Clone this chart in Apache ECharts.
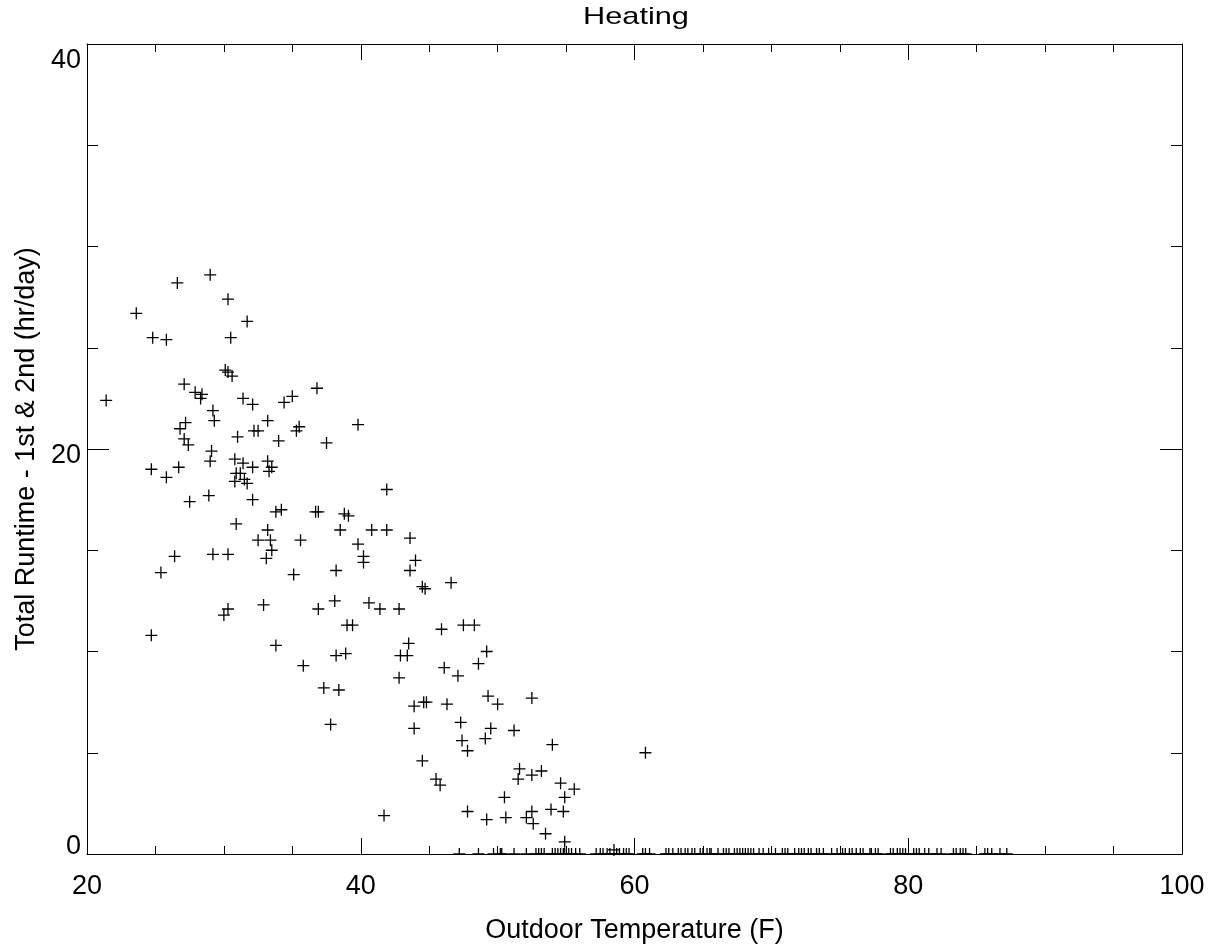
<!DOCTYPE html>
<html>
<head>
<meta charset="utf-8">
<script src="https://cdn.jsdelivr.net/npm/echarts@6/dist/echarts.min.js"></script>
<style>
  html, body { margin: 0; padding: 0; background: #fff; }
  #chart { width: 1220px; height: 949px; }
</style>
</head>
<body>
<div id="chart"></div>
<script>
// Outdoor temperature (F) for days with heating runtime > 0
const tempF = [
  29.0,26.6,30.3,23.6,31.7,30.5,24.8,25.8,30.1,30.3,30.6,27.1,36.8,21.4,27.9,28.4,28.3,31.4,32.1,35.0,
  34.4,29.2,29.3,33.2,39.8,27.2,26.8,32.2,32.5,35.5,35.3,31.0,27.1,27.4,34.0,37.5,29.1,29.0,30.8,31.4,
  32.1,33.2,33.5,33.3,24.7,26.7,25.8,30.9,31.2,30.8,31.5,31.7,
  27.5,28.9,32.1,33.8,34.2,36.7,36.9,38.8,39.1,30.9,33.2,38.5,32.5,33.4,35.6,39.8,33.5,33.1,26.4,29.2,
  30.3,25.4,35.1,38.2,32.9,30.3,30.0,36.9,38.1,39.0,39.4,24.7,33.8,35.8,38.2,38.9,37.3,38.4,37.8,
  41.9,40.8,41.9,43.6,40.2,40.2,44.0,43.6,44.5,44.7,46.6,40.6,41.4,42.8,45.9,47.5,48.3,43.5,42.9,43.4,
  49.2,48.6,46.1,47.1,42.8,49.3,50.0,52.5,43.9,44.6,44.8,46.3,
  43.9,47.3,49.5,51.2,47.4,49.1,47.8,54.0,60.8,44.5,45.5,45.8,51.6,51.5,52.5,53.2,54.6,55.6,54.9,50.5,
  47.8,49.2,50.6,52.1,52.5,52.6,53.9,54.8,53.5,54.9,58.5,41.7
];
// Total runtime 1st & 2nd stage (hr/day), matching tempF
const runtimeHr = [
  28.6,28.2,27.4,26.7,26.3,25.5,25.5,25.4,23.9,23.8,23.6,23.2,23.0,22.4,22.8,22.7,22.5,22.5,22.2,22.6,
  22.3,21.9,21.4,21.4,21.2,21.3,21.0,20.9,20.9,21.1,20.9,20.6,20.5,20.2,20.4,20.3,19.9,19.4,19.5,19.3,
  19.1,19.4,19.1,18.9,19.0,19.1,18.6,18.8,18.8,18.4,18.5,18.3,
  17.4,17.7,17.5,16.9,17.0,16.9,16.9,16.8,16.7,16.3,16.0,16.0,15.5,15.5,15.5,15.3,15.0,14.6,14.7,14.8,
  14.8,13.9,13.8,14.0,12.3,12.1,11.8,12.1,12.5,11.3,11.3,10.8,10.3,9.3,9.8,9.9,8.2,8.1,6.4,
  18.0,16.0,16.0,15.6,14.7,14.4,14.5,14.0,13.2,13.1,13.4,12.4,12.1,12.1,11.1,11.3,11.3,10.4,9.8,9.8,
  10.0,9.4,9.2,8.8,8.7,7.8,7.4,7.7,7.3,7.5,7.5,7.4,
  6.2,6.5,6.2,6.1,5.6,5.7,5.1,5.4,5.0,4.6,3.7,3.4,4.2,3.7,3.9,4.1,3.5,3.2,2.8,2.8,
  2.1,1.7,1.8,1.8,2.1,1.5,2.2,2.1,1.0,0.6,0.2,1.9
];
// Outdoor temperature (F) for days with zero heating runtime
const zeroRuntimeTempF = [
  47.2,48.6,49.7,50.2,50.3,51.2,52.1,52.8,53.0,53.2,53.4,54.0,54.2,54.4,54.6,54.8,54.9,55.2,55.4,55.7,
  56.0,57.2,57.5,57.7,58.0,58.2,58.7,58.9,59.2,59.4,59.6,60.6,60.8,61.1,62.3,62.5,62.8,63.2,63.4,63.7,
  63.9,64.2,64.4,64.8,65.0,65.3,65.5,65.6,66.1,66.5,66.7,66.9,67.3,67.5,67.7,67.9,68.1,68.3,68.5,68.7,
  69.1,69.4,69.8,70.3,70.8,71.0,71.2,71.7,72.0,72.2,72.4,72.7,72.9,73.3,73.5,73.8,74.4,74.8,75.2,75.4,
  75.7,75.9,76.2,76.5,76.7,77.2,77.3,77.6,77.8,78.7,78.9,79.2,79.4,79.6,79.8,80.4,80.6,80.8,81.2,81.5,
  82.1,82.4,83.3,83.5,83.8,84.0,84.2,85.6,85.8,86.1,86.7,87.2
];
const xTicks = [20, 40, 60, 80, 100];
const yTicks = [0, 20, 40];

const FONT = "'Liberation Sans', Arial, sans-serif";
const crossPath = 'path://M0,5.35H12V6.65H0Z M5.35,0H6.65V12H5.35Z';
const halfCrossPath = 'path://M0,5.35H12V6.65H0Z M5.35,0H6.65V6H5.35Z';

const points = [];
const n = Math.min(tempF.length, runtimeHr.length);
for (let i = 0; i < n; i++) points.push({ value: [tempF[i], runtimeHr[i]] });
zeroRuntimeTempF.forEach(t => points.push({
  value: [t, 0], symbol: halfCrossPath, symbolSize: [12, 6.65], symbolOffset: [0, -2.67]
}));

const axisCommon = {
  axisLine: { show: true, onZero: false, lineStyle: { color: '#000', width: 1 } },
  splitLine: { show: false },
  minorSplitLine: { show: false }
};

const chart = echarts.init(document.getElementById('chart'), null, { renderer: 'canvas' });
chart.setOption({
  animation: false,
  backgroundColor: '#fff',
  graphic: [{
    type: 'text', x: 636, y: 17, scaleX: 1.28, originX: 0, originY: 0,
    style: { text: 'Heating', x: 0, y: 0, align: 'center', verticalAlign: 'middle',
             fontSize: 24, fontFamily: FONT, fill: '#000' }
  }],
  grid: { left: 87, right: 38, top: 44, bottom: 95, containLabel: false },
  xAxis: [
    Object.assign({}, axisCommon, {
      type: 'value', position: 'bottom', min: xTicks[0], max: xTicks[xTicks.length - 1], interval: 20,
      name: 'Outdoor Temperature (F)', nameLocation: 'middle', nameGap: 63,
      nameTextStyle: { fontSize: 27, fontFamily: FONT, color: '#000' },
      axisTick: { show: true, inside: true, length: 16, lineStyle: { color: '#000' } },
      minorTick: { show: true, splitNumber: 4, length: 8, lineStyle: { color: '#000' } },
      axisLabel: { show: true, margin: 19, fontSize: 27, fontFamily: FONT, color: '#000' }
    }),
    Object.assign({}, axisCommon, {
      type: 'value', position: 'top', min: xTicks[0], max: xTicks[xTicks.length - 1], interval: 20,
      axisTick: { show: true, inside: true, length: 16, lineStyle: { color: '#000' } },
      minorTick: { show: true, splitNumber: 4, length: 8, lineStyle: { color: '#000' } },
      axisLabel: { show: false }
    })
  ],
  yAxis: [
    Object.assign({}, axisCommon, {
      type: 'value', position: 'left', min: yTicks[0], max: yTicks[yTicks.length - 1], interval: 20,
      name: 'Total Runtime - 1st & 2nd (hr/day)', nameLocation: 'middle', nameGap: 39,
      nameTextStyle: { fontSize: 27, fontFamily: FONT, color: '#000' },
      axisTick: { show: true, inside: true, length: 22, lineStyle: { color: '#000' } },
      minorTick: { show: true, splitNumber: 4, length: 11, lineStyle: { color: '#000' } },
      axisLabel: {
        show: true, margin: 6, fontSize: 27, fontFamily: FONT, color: '#000',
        formatter: v => v === yTicks[yTicks.length - 1] ? '{top|' + v + '}' : (v === yTicks[0] ? '{bot|' + v + '}' : '{mid|' + v + '}'),
        rich: {
          top: { fontSize: 27, fontFamily: FONT, color: '#000', padding: [34, 0, 0, 0] },
          mid: { fontSize: 27, fontFamily: FONT, color: '#000', padding: [14, 0, 0, 0] },
          bot: { fontSize: 27, fontFamily: FONT, color: '#000', padding: [0, 0, 15, 0] }
        }
      }
    }),
    Object.assign({}, axisCommon, {
      type: 'value', position: 'right', min: yTicks[0], max: yTicks[yTicks.length - 1], interval: 20,
      axisTick: { show: true, inside: true, length: 22, lineStyle: { color: '#000' } },
      minorTick: { show: true, splitNumber: 4, length: 11, lineStyle: { color: '#000' } },
      axisLabel: { show: false }
    })
  ],
  series: [{
    type: 'scatter',
    xAxisIndex: 0, yAxisIndex: 0,
    symbol: crossPath,
    symbolSize: 12,
    itemStyle: { color: '#000', opacity: 1 },
    data: points,
    clip: false,
    emphasis: { disabled: true }
  }]
});
</script>
</body>
</html>
